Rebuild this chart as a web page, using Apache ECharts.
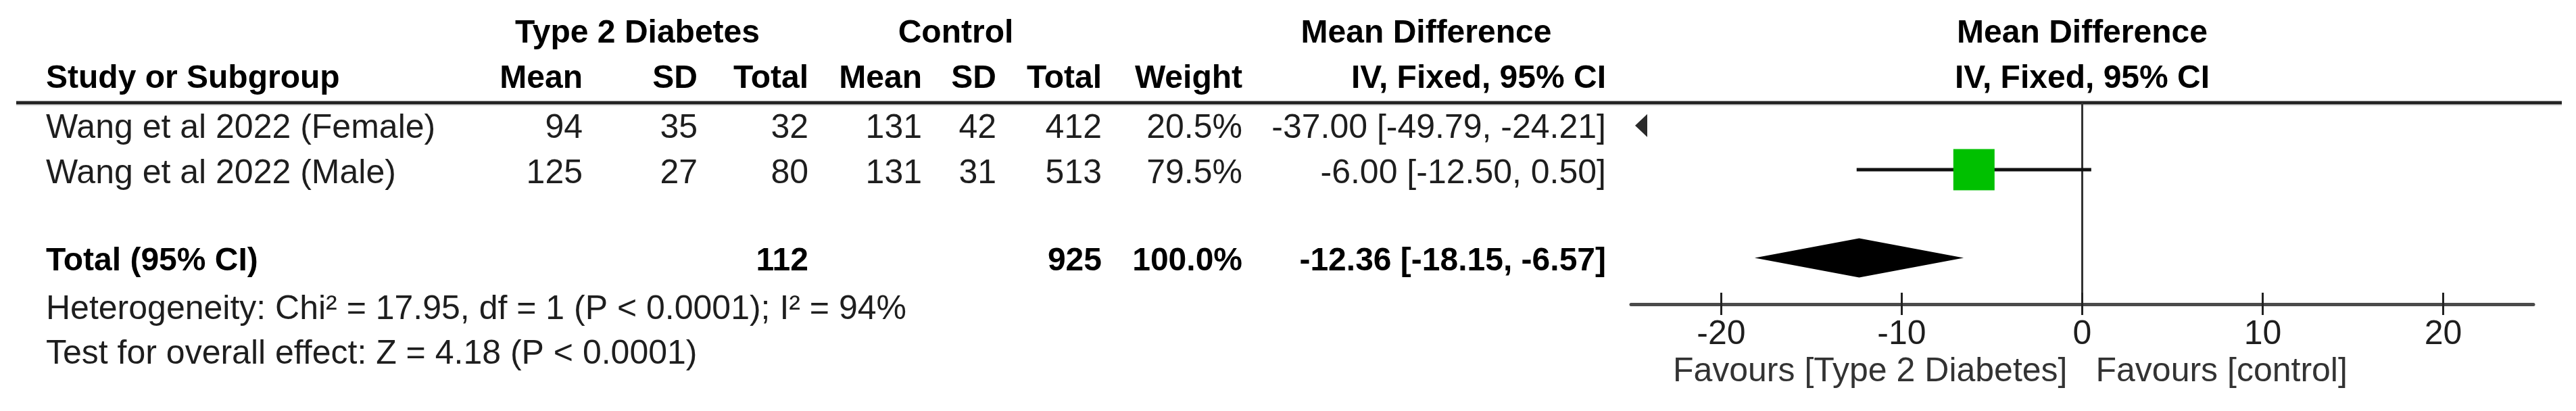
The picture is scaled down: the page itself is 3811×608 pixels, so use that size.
<!DOCTYPE html>
<html><head><meta charset="utf-8">
<script src="https://cdn.jsdelivr.net/npm/echarts@6/dist/echarts.min.js"></script>
<style>html,body{margin:0;padding:0;background:#fff}#c{width:3811px;height:608px}</style>
</head><body><div id="c"></div>
<script>
// ---- data ----
const studies = ['Wang et al 2022 (Female)', 'Wang et al 2022 (Male)'];
const t2dMean = [94, 125];
const t2dSD = [35, 27];
const t2dTotal = [32, 80];
const ctrlMean = [131, 131];
const ctrlSD = [42, 31];
const ctrlTotal = [412, 513];
const weights = [20.5, 79.5];
const md = [-37.00, -6.00];
const ciLow = [-49.79, -12.50];
const ciHigh = [-24.21, 0.50];
const studyRows = [1, 2];
const totalLabel = 'Total (95% CI)';
const totalT2D = 112;
const totalCtrl = 925;
const totalWeight = 100.0;
const totalMD = -12.36;
const totalLow = -18.15;
const totalHigh = -6.57;
const totalRow = 4;
const heterogeneityText = 'Heterogeneity: Chi\u00B2 = 17.95, df = 1 (P < 0.0001); I\u00B2 = 94%';
const overallText = 'Test for overall effect: Z = 4.18 (P < 0.0001)';
const tickValues = [-20, -10, 0, 10, 20];
const axisMin = -25, axisMax = 25;
const favoursLeft = 'Favours [Type 2 Diabetes]';
const favoursRight = 'Favours [control]';

// ---- style / layout ----
const FONT = '"Liberation Sans", Arial, sans-serif';
const FS_B = 48;
const FS_R = 50;
const TXT = '#1e1e1e';
const SQUARE_PX = 61;
const DIAMOND_H = 58;
const ARROW_LEN = 18;
const ARROW_H = 34;

const chart = echarts.init(document.getElementById('c'), null, {renderer: 'canvas'});

function fmt(v) { return v.toFixed(2); }
function ciText(m, lo, hi) { return fmt(m) + ' [' + fmt(lo) + ', ' + fmt(hi) + ']'; }

function txt(text, x, y, align, bold, color) {
  return {
    type: 'text', x: x, y: y, silent: true,
    style: {
      text: String(text), fontFamily: FONT, fontSize: bold ? FS_B : FS_R,
      fontWeight: bold ? 'bold' : 'normal', fill: color || TXT,
      textAlign: align, textVerticalAlign: 'middle', align: align, verticalAlign: 'middle'
    }
  };
}

const COL = {t2dMean: 862, t2dSD: 1032, t2dTotal: 1196, cMean: 1364, cSD: 1474, cTotal: 1630, weight: 1838, ci: 2376};
const Y = {h1: 50, h2: 117, rows: [190, 257], total: 387, het: 458, test: 524, fav: 550};
const LEFT = 68;
const LINE_Y = 152;

const graphics = [];
graphics.push({type: 'line', silent: true, shape: {x1: 24, y1: LINE_Y, x2: 3790, y2: LINE_Y}, style: {stroke: '#232323', lineWidth: 5}});
graphics.push({type: 'line', silent: true, shape: {x1: 24, y1: LINE_Y + 4, x2: 3790, y2: LINE_Y + 4}, style: {stroke: '#e6e6e6', lineWidth: 2}});
graphics.push(txt('Type 2 Diabetes', 943, Y.h1, 'center', true, '#000'));
graphics.push(txt('Control', 1414, Y.h1, 'center', true, '#000'));
graphics.push(txt('Mean Difference', 2110, Y.h1, 'center', true, '#000'));
graphics.push(txt('Study or Subgroup', LEFT, Y.h2, 'left', true, '#000'));
graphics.push(txt('Mean', COL.t2dMean, Y.h2, 'right', true, '#000'));
graphics.push(txt('SD', COL.t2dSD, Y.h2, 'right', true, '#000'));
graphics.push(txt('Total', COL.t2dTotal, Y.h2, 'right', true, '#000'));
graphics.push(txt('Mean', COL.cMean, Y.h2, 'right', true, '#000'));
graphics.push(txt('SD', COL.cSD, Y.h2, 'right', true, '#000'));
graphics.push(txt('Total', COL.cTotal, Y.h2, 'right', true, '#000'));
graphics.push(txt('Weight', COL.weight, Y.h2, 'right', true, '#000'));
graphics.push(txt('IV, Fixed, 95% CI', COL.ci, Y.h2, 'right', true, '#000'));
studies.forEach(function (s, i) {
  const y = Y.rows[i];
  graphics.push(txt(s, LEFT, y, 'left', false));
  graphics.push(txt(t2dMean[i], COL.t2dMean, y, 'right', false));
  graphics.push(txt(t2dSD[i], COL.t2dSD, y, 'right', false));
  graphics.push(txt(t2dTotal[i], COL.t2dTotal, y, 'right', false));
  graphics.push(txt(ctrlMean[i], COL.cMean, y, 'right', false));
  graphics.push(txt(ctrlSD[i], COL.cSD, y, 'right', false));
  graphics.push(txt(ctrlTotal[i], COL.cTotal, y, 'right', false));
  graphics.push(txt(weights[i].toFixed(1) + '%', COL.weight, y, 'right', false));
  graphics.push(txt(ciText(md[i], ciLow[i], ciHigh[i]), COL.ci, y, 'right', false));
});
graphics.push(txt(totalLabel, LEFT, Y.total, 'left', true, '#000'));
graphics.push(txt(totalT2D, COL.t2dTotal, Y.total, 'right', true, '#000'));
graphics.push(txt(totalCtrl, COL.cTotal, Y.total, 'right', true, '#000'));
graphics.push(txt(totalWeight.toFixed(1) + '%', COL.weight, Y.total, 'right', true, '#000'));
graphics.push(txt(ciText(totalMD, totalLow, totalHigh), COL.ci, Y.total, 'right', true, '#000'));
graphics.push(txt(heterogeneityText, LEFT, Y.het, 'left', false));
graphics.push(txt(overallText, LEFT, Y.test, 'left', false));

const maxW = Math.max.apply(null, weights);

const option = {
  backgroundColor: '#fff',
  animation: false,
  grid: {left: 2413, right: 63, top: 153, bottom: 158, containLabel: false},
  xAxis: [{
    type: 'value', min: axisMin, max: axisMax, position: 'bottom',
    axisLine: {show: true, onZero: false, lineStyle: {color: '#4a4a4a', width: 5}},
    axisTick: {show: true, inside: false, length: 16, customValues: tickValues, lineStyle: {color: '#222', width: 3}},
    axisLabel: {show: true, customValues: tickValues, margin: 20, fontSize: FS_R, fontFamily: FONT, color: TXT},
    splitLine: {show: false}
  }, {
    type: 'value', min: axisMin, max: axisMax, position: 'bottom',
    axisLine: {show: false, onZero: false},
    axisTick: {show: true, inside: true, length: 17, customValues: tickValues, lineStyle: {color: '#222', width: 3}},
    axisLabel: {show: false},
    splitLine: {show: false}
  }],
  yAxis: {
    type: 'value', min: 0.5, max: 5.05, inverse: true,
    axisLine: {show: true, onZero: true, lineStyle: {color: '#333', width: 3}},
    axisTick: {show: false}, axisLabel: {show: false}, splitLine: {show: false}
  },
  series: [{
    type: 'custom',
    xAxisIndex: 0, yAxisIndex: 0,
    data: studies.map(function (s, i) { return [md[i], studyRows[i], ciLow[i], ciHigh[i], weights[i]]; }),
    renderItem: function (params, api) {
      const m = api.value(0), row = api.value(1), lo = api.value(2), hi = api.value(3), w = api.value(4);
      if (hi < axisMin || lo > axisMax) return null;
      const left = api.coord([axisMin, row]);
      const right = api.coord([axisMax, row]);
      const cy = left[1];
      let x1 = api.coord([Math.max(lo, axisMin), row])[0];
      let x2 = api.coord([Math.min(hi, axisMax), row])[0];
      const children = [];
      if (lo < axisMin) {
        const tip = left[0] + 6;
        children.push({type: 'polygon', shape: {points: [[tip, cy], [tip + ARROW_LEN, cy - ARROW_H / 2], [tip + ARROW_LEN, cy + ARROW_H / 2]]}, style: {fill: '#2a2a2a'}});
        x1 = tip + ARROW_LEN;
      }
      if (hi > axisMax) {
        const tip = right[0] - 6;
        children.push({type: 'polygon', shape: {points: [[tip, cy], [tip - ARROW_LEN, cy - ARROW_H / 2], [tip - ARROW_LEN, cy + ARROW_H / 2]]}, style: {fill: '#2a2a2a'}});
        x2 = tip - ARROW_LEN;
      }
      if (x2 > x1) {
        children.push({type: 'line', shape: {x1: x1, y1: cy, x2: x2, y2: cy}, style: {stroke: '#111', lineWidth: 5}});
      }
      if (m >= axisMin && m <= axisMax) {
        const c = api.coord([m, row]);
        const side = SQUARE_PX * Math.sqrt(w / maxW);
        children.push({type: 'rect', shape: {x: c[0] - side / 2, y: cy - side / 2, width: side, height: side}, style: {fill: '#00c000'}});
      }
      return {type: 'group', children: children};
    }
  }, {
    type: 'custom',
    xAxisIndex: 0, yAxisIndex: 0,
    data: [[totalMD, totalRow, totalLow, totalHigh]],
    renderItem: function (params, api) {
      const m = api.value(0), row = api.value(1), lo = api.value(2), hi = api.value(3);
      const pl = api.coord([lo, row]), pm = api.coord([m, row]), ph = api.coord([hi, row]);
      const cy = pm[1];
      return {type: 'polygon', shape: {points: [[pl[0], cy], [pm[0], cy - DIAMOND_H / 2], [ph[0], cy], [pm[0], cy + DIAMOND_H / 2]]}, style: {fill: '#000'}};
    }
  }],
  graphic: graphics
};
chart.setOption(option);

const zeroX = chart.convertToPixel({xAxisIndex: 0}, 0);
const extra = [
  txt('Mean Difference', zeroX, Y.h1, 'center', true, '#000'),
  txt('IV, Fixed, 95% CI', zeroX, Y.h2, 'center', true, '#000'),
  txt(favoursLeft, zeroX - 22, Y.fav, 'right', false, '#333'),
  txt(favoursRight, zeroX + 20, Y.fav, 'left', false, '#333')
];
chart.setOption({graphic: graphics.concat(extra)});
</script>
</body></html>
